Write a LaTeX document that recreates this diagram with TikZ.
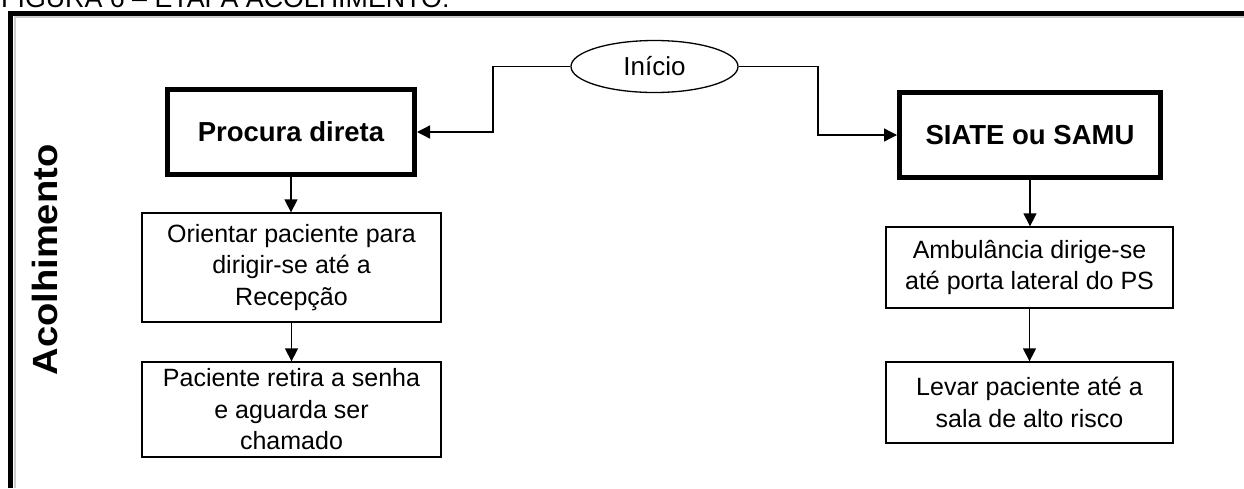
\documentclass[tikz,border=0pt]{standalone}
\usepackage{fontspec}
\setmainfont{Liberation Sans}
\usetikzlibrary{shapes.geometric,arrows.meta}

\begin{document}
\begin{tikzpicture}[x=1pt,y=1pt,
  txt/.style={font=\fontsize{25}{31.5}\selectfont},
  head/.style={font=\fontsize{27.5}{33}\selectfont\bfseries},
  stepbox/.style={draw, line width=1.3pt, rectangle, align=center, inner sep=0pt, txt},
  keybox/.style={draw, line width=5pt, rectangle, align=center, inner sep=0pt, head,
                 minimum width=247pt, minimum height=85pt},
  conn/.style={line width=1.3pt, -{Triangle[length=13pt,width=13pt]}},
]
\useasboundingbox (0,0) rectangle (1244,-488);

% caption line, cut by the page top
\node[anchor=base west, inner sep=0pt, font=\fontsize{26.8}{30}\selectfont] (caption) at (1,-7)
  {FIGURA 6 – ETAPA ACOLHIMENTO:};

% heavy frame around the stage
\draw[gray!40, line width=2pt] (14.5,-488) -- (14.5,-16.5) -- (1244,-16.5);
\draw[line width=5pt] (10.5,-488) -- (10.5,-13) -- (1244,-13);

% stage label
\node[rotate=90, inner sep=0pt, font=\fontsize{35}{40}\selectfont\bfseries] (etapa) at (44.5,-260)
  {\scalebox{1.09}[1]{Acolhimento}};

% start
\node[ellipse, draw, line width=1.3pt, minimum width=167pt, minimum height=52pt, inner sep=0pt,
      font=\fontsize{26}{30}\selectfont] (inicio) at (654.5,-66.5) {Início};

% entry types
\node[keybox] (procura) at (291,-132) {Procura direta};
\node[keybox, minimum width=261pt] (siate) at (1030,-135) {SIATE ou SAMU};

% steps
\node[stepbox, minimum width=299pt, minimum height=109pt] (orientar) at (291.5,-267.5)
  {Orientar paciente para\\dirigir-se até a\\Recepção};
\node[stepbox, minimum width=299pt, minimum height=95pt] (paciente) at (291.5,-409.5)
  {Paciente retira a senha\\e aguarda ser\\chamado};
\node[stepbox, minimum width=287pt, minimum height=81pt] (ambul) at (1029.5,-267.5)
  {Ambulância dirige-se\\até porta lateral do PS};
\node[stepbox, minimum width=287pt, minimum height=81pt] (levar) at (1029.5,-402.5)
  {Levar paciente até a\\sala de alto risco};

% connectors
\coordinate (jl) at (493,-66.5);
\coordinate (jr) at (818,-66.5);
\draw[conn] (inicio.west) -- (jl) |- (procura.east);
\draw[conn] (inicio.east) -- (jr) |- (siate.west);
\draw[conn] (procura.south) -- (procura.south |- orientar.north);
\draw[conn] (orientar.south) -- (orientar.south |- paciente.north);
\draw[conn] (siate.south) -- (siate.south |- ambul.north);
\draw[conn] (ambul.south) -- (ambul.south |- levar.north);
\end{tikzpicture}
\end{document}
